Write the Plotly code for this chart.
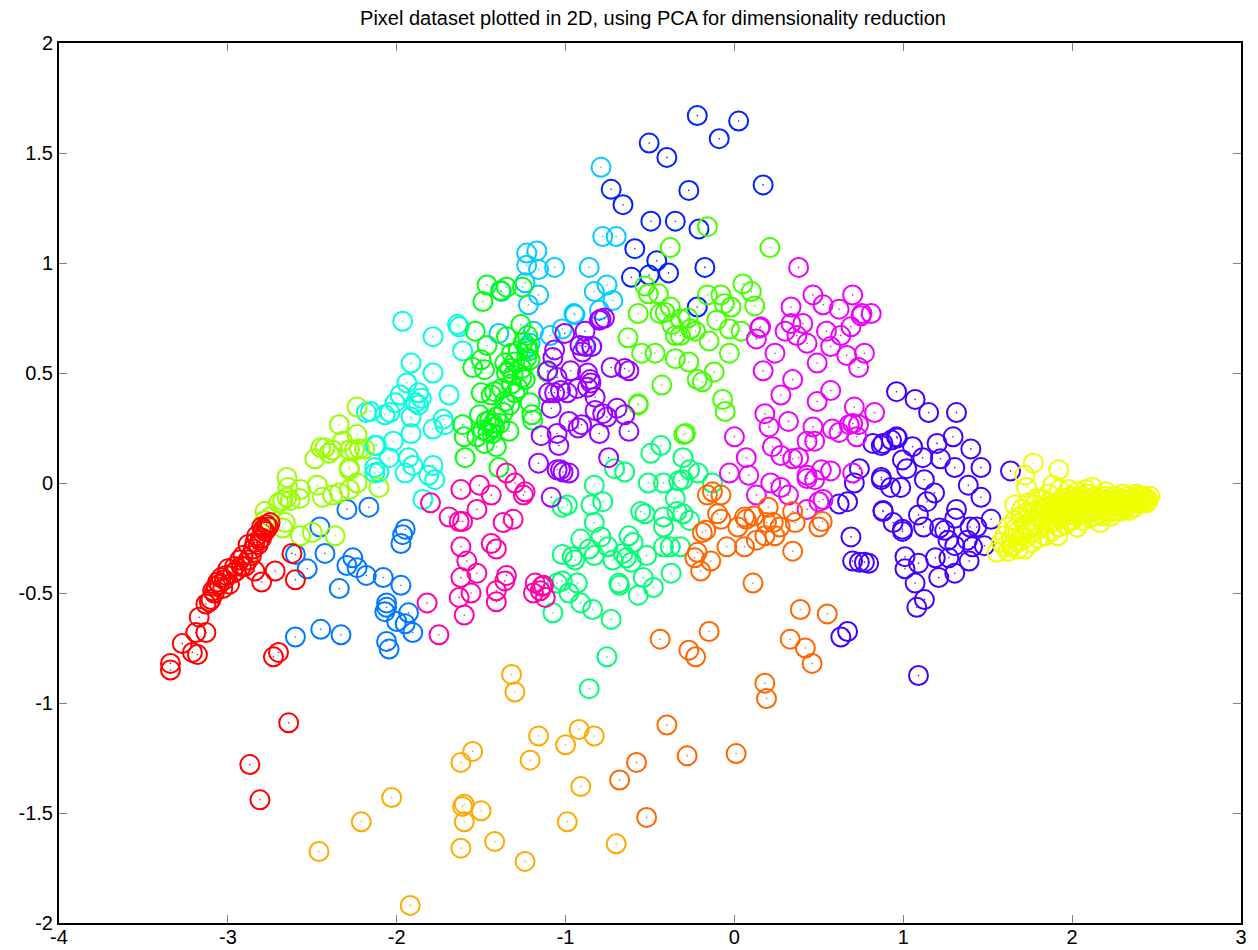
"""
Pixel dataset in 2D after PCA, one colour per cluster.
Values are read off the reference picture by eye.
"""
import plotly.graph_objects as go

# tick labels
x_ticks = [-4, -3, -2, -1, 0, 1, 2, 3]
y_ticks = [-2, -1.5, -1, -0.5, 0, 0.5, 1, 1.5, 2]

blue = [(-0.22,1.67),(0.025,1.645),(-0.09,1.565),(-0.505,1.545),(-0.40,1.48),(0.17,1.355),(-0.73,1.335),
        (-0.66,1.265),(-0.27,1.33),(-0.495,1.19),(-0.35,1.19),(-0.21,1.155),(-0.59,1.065),(-0.46,1.01),
        (-0.175,0.98),(-0.61,0.935),(-0.505,0.945),(-0.39,0.955),(-0.22,0.80)]

azure = [(-2.295,-0.12),(-2.165,-0.11),(-2.455,-0.20),(-2.60,-0.325),(-2.425,-0.32),(-2.53,-0.39),(-2.26,-0.34),
         (-2.295,-0.375),(-2.235,-0.385),(-2.18,-0.42),(-2.08,-0.43),(-1.975,-0.465),(-2.34,-0.48),(-1.95,-0.21),
         (-1.965,-0.235),(-1.975,-0.275),(-2.06,-0.545),(-2.06,-0.565),(-2.07,-0.585),(-1.93,-0.59),(-2.00,-0.63),
         (-1.95,-0.64),(-1.905,-0.68),(-2.06,-0.72),(-2.045,-0.755),(-2.45,-0.665),(-2.33,-0.69),(-2.60,-0.70)]

sky = [(-0.79,1.435),(-0.78,1.12),(-0.70,1.12),(-0.86,0.98),(-0.755,0.90),(-0.83,0.87),(-0.72,0.83),(-0.80,0.785),
       (-0.95,0.77),(-0.945,0.765),(-1.23,1.045),(-1.17,1.055),(-1.23,0.99),(-1.16,0.97),(-1.065,0.98),(-1.24,0.91),
       (-1.38,0.87),(-1.16,0.855),(-1.22,0.81),(-1.395,0.68),(-1.19,0.69),(-1.09,0.67),(-1.02,0.70),(-1.21,0.635),
       (-1.23,0.61),(-0.885,0.62),(-0.845,0.62)]

cyan = [(-1.965,0.735),(-1.785,0.665),(-1.64,0.72),(-1.63,0.71),(-1.61,0.60),(-1.915,0.545),(-1.785,0.50),(-1.94,0.455),
        (-1.98,0.40),(-2.01,0.365),(-2.155,0.325),(-2.07,0.31),(-2.04,0.32),(-1.855,0.385),(-1.87,0.355),(-1.89,0.365),
        (-1.69,0.40),(-1.915,0.30),(-1.915,0.225),(-1.785,0.245),(-1.725,0.29),(-1.715,0.265),(-2.13,0.17),(-2.12,0.17),
        (-2.02,0.19),(-2.045,0.115),(-2.13,0.07),(-2.105,0.05),(-2.13,0.045),(-1.93,0.115),(-1.905,0.08),(-1.95,0.045),
        (-1.785,0.08),(-1.81,0.035),(-1.775,0.015),(-1.845,-0.075),(-2.18,0.32),(-1.87,0.41)]

green = [(-1.465,0.90),(-1.385,0.875),(-1.35,0.89),(-1.255,0.89),(-1.49,0.825),(-1.535,0.69),(-1.265,0.72),(-1.35,0.665),
         (-1.465,0.625),(-1.50,0.56),(-1.55,0.525),(-1.48,0.515),(-1.32,0.59),(-1.225,0.67),(-1.225,0.62),(-1.23,0.57),
         (-1.36,0.545),(-1.30,0.55),(-1.26,0.48),(-1.24,0.47),(-1.31,0.49),(-1.35,0.50),(-1.11,0.505),(-1.21,0.56),
         (-1.21,0.365),(-1.20,0.31),(-1.195,0.285),(-1.50,0.41),(-1.42,0.415),(-1.33,0.355),(-1.37,0.32),(-1.51,0.31),
         (-1.45,0.285),(-1.42,0.255),(-1.39,0.27),(-1.335,0.235),(-1.61,0.265),(-1.60,0.21),(-1.525,0.21),(-1.48,0.18),
         (-1.41,0.165),(-1.595,0.115),(-1.395,0.07),(-1.46,0.23),(-1.435,0.225),(-1.43,0.27),(-1.28,0.43),(-1.38,0.43),
         (-1.26,0.52),(-1.47,0.28),(-1.49,0.24),(-1.41,0.30),(-1.44,0.40),(-1.32,0.45),(-1.30,0.41),(-1.36,0.37),
         (-1.33,0.52),(-1.28,0.60),(-1.25,0.64),(-1.22,0.60)]

lime = [(-0.16,1.165),(-0.38,1.07),(0.21,1.07),(-0.53,0.895),(-0.51,0.86),(-0.45,0.86),(-0.57,0.77),(-0.38,0.80),
        (-0.44,0.77),(-0.41,0.775),(-0.275,0.75),(-0.16,0.855),(-0.08,0.855),(0.05,0.905),(0.10,0.87),(-0.02,0.80),
        (-0.06,0.815),(0.12,0.805),(-0.105,0.74),(-0.03,0.70),(0.04,0.69),(-0.15,0.645),(-0.03,0.59),(-0.27,0.55),
        (-0.12,0.505),(-0.19,0.46),(-0.07,0.38),(-0.055,0.325),(-0.29,0.225),(-0.30,0.22),(-0.63,0.66),(-0.55,0.59),
        (-0.47,0.59),(-0.35,0.565),(-0.57,0.355),(-0.57,0.36),(-0.43,0.445),(-0.22,0.47),(-0.35,0.67),(-0.32,0.67),
        (-0.23,0.69),(-0.37,0.72),(-0.26,0.70),(-0.32,0.745)]

chartreuse = [(-2.235,0.345),(-2.34,0.265),(-2.235,0.22),(-2.32,0.19),(-2.485,0.11),(-2.45,0.16),(-2.425,0.16),(-2.40,0.135),
              (-2.38,0.15),(-2.28,0.15),(-2.25,0.15),(-2.22,0.155),(-2.19,0.155),(-2.28,0.07),(-2.28,0.06),(-2.65,0.025),
              (-2.47,-0.01),(-2.235,0),(-2.34,-0.045),(-2.28,-0.03),(-2.105,-0.02),(-2.44,-0.065),(-2.38,-0.055),(-2.57,-0.03),
              (-2.645,-0.02),(-2.65,-0.065),(-2.675,-0.08),(-2.63,-0.08),(-2.575,-0.07),(-2.78,-0.13),(-2.70,-0.09),(-2.75,-0.155),
              (-2.66,-0.18),(-2.675,-0.205),(-2.50,-0.225),(-2.57,-0.24),(-2.365,-0.24),(-2.78,-0.17)]

spring = [(-1.02,-0.11),(-0.99,-0.10),(-0.83,-0.01),(-0.85,-0.10),(-0.78,-0.085),(-0.83,-0.18),(-0.91,-0.255),(-0.79,-0.245),
          (-0.86,-0.30),(-0.83,-0.33),(-0.75,-0.29),(-1.02,-0.325),(-0.945,-0.35),(-0.96,-0.335),(-0.72,-0.35),(-0.625,-0.24),
          (-0.60,-0.27),(-0.66,-0.32),(-0.64,-0.34),(-0.61,-0.36),(-0.52,-0.33),(-0.555,-0.13),(-0.53,-0.14),(-0.51,0),
          (-0.42,0),(-0.33,0.01),(-0.35,-0.07),(-0.42,-0.155),(-0.42,-0.20),(-0.34,-0.13),(-0.305,-0.14),(-0.265,-0.17),
          (-0.42,-0.29),(-0.38,-0.29),(-0.32,-0.29),(-0.375,-0.41),(-0.54,-0.43),(-0.48,-0.475),(-0.685,-0.455),(-0.68,-0.465),
          (-0.57,-0.51),(-1.05,-0.455),(-1.02,-0.445),(-0.93,-0.455),(-0.98,-0.50),(-0.91,-0.545),(-0.84,-0.575),(-1.075,-0.59),
          (-0.73,-0.62),(-0.755,-0.79),(-0.86,-0.935),(-0.495,0.135),(-0.435,0.17),(-0.305,0.115),(-0.71,0.065),(-0.65,0.05),
          (-0.215,0.045),(-0.265,0.06),(-0.13,0),(-0.305,0.015)]

indigo = [(0.96,0.415),(1.07,0.38),(1.15,0.32),(1.315,0.32),(1.20,0.18),(1.295,0.21),(1.40,0.155),(1.055,0.165),(1.115,0.115),
          (1.22,0.11),(1.305,0.07),(1.46,0.07),(1.635,0.055),(0.96,0.21),(0.965,0.205),(0.88,0.18),(0.82,0.18),(0.87,0.17),
          (0.93,0.195),(0.995,0.105),(1.02,0.065),(1.125,0.015),(1.385,-0.01),(1.46,-0.065),(1.185,-0.045),(1.14,-0.085),
          (1.09,-0.145),(1.315,-0.12),(0.88,-0.13),(0.88,-0.125),(0.94,-0.18),(0.995,-0.21),(0.995,-0.22),(1.12,-0.20),
          (1.215,-0.205),(1.245,-0.215),(1.305,-0.16),(1.395,-0.20),(1.435,-0.20),(1.52,-0.165),(1.265,-0.26),(1.305,-0.285),
          (1.38,-0.26),(1.41,-0.29),(1.48,-0.285),(1.27,-0.34),(1.19,-0.34),(1.39,-0.355),(1.01,-0.335),(1.09,-0.365),
          (1.01,-0.39),(1.305,-0.41),(1.21,-0.43),(1.07,-0.455),(1.125,-0.53),(1.08,-0.565),(0.74,0.065),(0.87,0.015),
          (0.71,0),(0.87,0.025),(0.925,-0.02),(0.985,-0.02),(0.62,-0.095),(0.67,-0.085),(0.69,-0.245),(0.70,-0.355),
          (0.74,-0.36),(0.77,-0.36),(0.795,-0.365),(1.09,-0.875),(0.67,-0.675),(0.63,-0.70)]

purple = [(-1.005,0.68),(-0.885,0.69),(-0.79,0.745),(-0.77,0.75),(-0.80,0.74),(-1.065,0.605),(-1.075,0.57),(-0.915,0.625),
          (-0.88,0.62),(-0.845,0.62),(-0.90,0.595),(-0.97,0.51),(-1.05,0.48),(-1.105,0.51),(-0.87,0.50),(-0.855,0.47),
          (-0.85,0.455),(-0.87,0.435),(-0.73,0.525),(-0.65,0.52),(-0.625,0.51),(-1.10,0.41),(-0.99,0.41),(-0.93,0.43),
          (-1.03,0.42),(-1.065,0.41),(-0.825,0.39),(-1.085,0.34),(-0.825,0.33),(-0.755,0.30),(-0.695,0.34),(-0.65,0.31),
          (-0.78,0.315),(-0.98,0.28),(-0.905,0.265),(-0.925,0.25),(-0.80,0.225),(-0.625,0.235),(-1.145,0.215),(-1.05,0.225),
          (-1.04,0.17),(-1.16,0.09),(-0.745,0.115),(-1.05,0.06),(-1.015,0.05),(-0.98,0.045),(-1.03,0.06),(-1.085,-0.065)]

pink = [(-1.62,-0.03),(-1.51,-0.01),(-1.44,-0.055),(-1.525,-0.12),(-1.35,0.045),(-1.30,0),(-1.24,-0.04),(-1.25,-0.055),
        (-1.80,-0.09),(-1.69,-0.155),(-1.63,-0.175),(-1.61,-0.175),(-1.37,-0.18),(-1.31,-0.165),(-1.44,-0.275),(-1.41,-0.30),
        (-1.62,-0.29),(-1.585,-0.355),(-1.62,-0.43),(-1.525,-0.41),(-1.35,-0.42),(-1.36,-0.445),(-1.41,-0.49),(-1.41,-0.54),
        (-1.63,-0.52),(-1.56,-0.50),(-1.60,-0.60),(-1.82,-0.545),(-1.75,-0.69),(-1.18,-0.455),(-1.19,-0.50),(-1.14,-0.47),
        (-1.13,-0.465),(-1.12,-0.52),(-1.15,-0.49)]

magenta = [(0.38,0.98),(0.465,0.855),(0.70,0.855),(0.525,0.81),(0.335,0.80),(0.62,0.79),(0.81,0.77),(0.75,0.76),(0.755,0.77),
           (0.69,0.71),(0.405,0.725),(0.335,0.725),(0.30,0.69),(0.545,0.69),(0.63,0.67),(0.37,0.67),(0.43,0.635),(0.57,0.62),
           (0.155,0.71),(0.15,0.705),(0.13,0.655),(0.24,0.59),(0.665,0.58),(0.77,0.59),(0.49,0.545),(0.735,0.525),(0.17,0.51),
           (0.345,0.47),(0.57,0.42),(0.275,0.40),(0.49,0.37),(0.71,0.345),(0.83,0.32),(0.18,0.315),(0.32,0.28),(0.205,0.255),
           (0.465,0.255),(0.58,0.245),(0.62,0.23),(0.68,0.265),(0.70,0.27),(0.735,0.265),(0.725,0.21),(0.0,0.21),(0.43,0.19),
           (0.475,0.19),(0.225,0.165),(0.275,0.125),(0.345,0.11),(0.38,0.115),(0.07,0.115),(-0.03,0.045),(0.085,0.035),
           (0.43,0.035),(0.515,0.06),(0.57,0.055),(0.475,0.015),(0.43,0.02),(0.70,0.045),(0.215,0),(0.275,-0.02),(0.32,-0.055),
           (0.13,-0.055),(0.43,-0.12),(0.50,-0.085),(0.525,-0.075)]

yellow = [(1.77,0.09),(1.92,0.06),(1.72,0.035),(1.73,-0.02),(1.885,-0.01),(1.925,-0.03),(1.66,-0.10),(1.79,-0.07),(1.825,-0.075),
          (2.03,-0.04),(2.12,-0.02),(1.72,-0.30),(1.555,-0.315),(1.65,-0.285),(1.915,-0.24),(2.03,-0.20),(2.165,-0.18),(2.34,-0.125),
          (2.44,-0.09),(2.46,-0.06),(2.42,-0.06),(2.38,-0.07),(2.33,-0.06),(2.30,-0.09),(2.26,-0.08),(2.22,-0.07),(2.18,-0.08),
          (2.14,-0.06),(2.10,-0.07),(2.06,-0.06),(2.02,-0.07),(1.98,-0.08),(1.94,-0.07),(1.90,-0.10),(1.86,-0.09),(1.82,-0.11),
          (1.78,-0.10),(1.74,-0.13),(1.70,-0.15),(1.66,-0.17),(1.62,-0.20),(1.60,-0.24),(1.58,-0.27),(1.60,-0.29),(1.64,-0.25),
          (1.68,-0.22),(1.72,-0.19),(1.76,-0.17),(1.80,-0.15),(1.84,-0.14),(1.88,-0.13),(1.92,-0.12),(1.96,-0.11),(2.00,-0.10),
          (2.04,-0.09),(2.08,-0.10),(2.12,-0.09),(2.16,-0.10),(2.20,-0.10),(2.24,-0.10),(2.28,-0.11),(2.32,-0.10),(2.36,-0.09),
          (2.40,-0.08),(1.64,-0.29),(1.68,-0.27),(1.72,-0.25),(1.76,-0.23),(1.80,-0.21),(1.84,-0.19),(1.88,-0.18),(1.92,-0.16),
          (1.96,-0.15),(2.00,-0.14),(2.04,-0.13),(2.08,-0.14),(2.12,-0.13),(2.16,-0.14),(2.20,-0.13),(2.24,-0.13),(2.28,-0.13),
          (1.76,-0.27),(1.80,-0.25),(1.84,-0.24),(1.88,-0.22),(1.92,-0.20),(1.96,-0.19),(2.00,-0.17),(2.06,-0.17),(2.10,-0.16),
          (1.68,-0.30),(1.62,-0.31),(1.70,-0.12),(1.74,-0.09),(1.78,-0.13),(1.86,-0.05),(1.98,-0.03),(2.08,-0.03),(2.20,-0.04),
          (2.30,-0.05),(2.38,-0.05),
          # solid part of the band
          (1.95,-0.09),(1.97,-0.13),(1.99,-0.06),(2.01,-0.12),(2.03,-0.15),(2.05,-0.08),(2.07,-0.12),(2.09,-0.05),(2.11,-0.11),
          (2.13,-0.15),(2.15,-0.08),(2.17,-0.12),(2.19,-0.06),(2.21,-0.11),(2.23,-0.15),(2.25,-0.06),(2.27,-0.10),(2.29,-0.07),
          (2.31,-0.12),(2.33,-0.09),(2.35,-0.07),(2.37,-0.11),(2.39,-0.06),(2.41,-0.09),(2.43,-0.07),(2.45,-0.08),(1.90,-0.15),
          (1.93,-0.10),(1.98,-0.17),(2.02,-0.11),(2.06,-0.14),(2.10,-0.11),(2.14,-0.12),(2.18,-0.15),(2.22,-0.12),(2.26,-0.12),
          (2.30,-0.11),(2.34,-0.08),(2.38,-0.09),(2.42,-0.08),(1.86,-0.17),(1.82,-0.17),(1.78,-0.19),(1.74,-0.21),(1.70,-0.24),
          (1.66,-0.21),(1.90,-0.13),(1.94,-0.14),(1.98,-0.12),(2.04,-0.11),(2.08,-0.08),(2.12,-0.11),(2.16,-0.07),(2.20,-0.08),
          (2.24,-0.08),(2.28,-0.09),(2.32,-0.08),(2.36,-0.07),(2.40,-0.06),(2.44,-0.07),(1.84,-0.12),(1.88,-0.10),(1.92,-0.09),
          (1.96,-0.07),(2.00,-0.08),(2.04,-0.07)]

orange = [(-0.13,-0.04),(-0.08,-0.055),(-0.16,-0.055),(-0.10,-0.14),(-0.08,-0.165),(0.02,-0.2),(0.06,-0.155),(0.07,-0.165),
          (0.115,-0.15),(0.20,-0.11),(0.345,-0.13),(0.36,-0.18),(0.52,-0.175),(0.50,-0.2),(0.19,-0.18),(0.23,-0.18),(0.27,-0.2),
          (0.24,-0.24),(0.18,-0.24),(0.13,-0.26),(0.06,-0.29),(-0.045,-0.29),(0.345,-0.31),(-0.14,-0.355),(-0.20,-0.40),
          (-0.22,-0.315),(-0.235,-0.34),(-0.17,-0.215),(-0.19,-0.225),(0.11,-0.455),(-0.44,-0.71),(-0.27,-0.76),(-0.23,-0.79),
          (-0.15,-0.675),(0.39,-0.575),(0.55,-0.595),(0.33,-0.71),(0.42,-0.75),(0.46,-0.82),(0.18,-0.91),(0.19,-0.98),
          (-0.40,-1.10),(-0.28,-1.24),(0.01,-1.23),(-0.58,-1.27),(-0.68,-1.35),(-0.52,-1.52)]

amber = [(-1.32,-0.87),(-1.30,-0.95),(-1.16,-1.15),(-1.21,-1.26),(-1.0,-1.19),(-0.92,-1.12),(-0.83,-1.15),(-0.91,-1.38),
         (-0.99,-1.54),(-1.62,-1.27),(-1.55,-1.22),(-1.61,-1.47),(-1.60,-1.46),(-1.60,-1.54),(-1.50,-1.49),(-1.62,-1.66),
         (-1.42,-1.63),(-1.24,-1.72),(-1.92,-1.92),(-2.46,-1.675),(-2.21,-1.54),(-2.03,-1.43),(-0.70,-1.64)]

red = [(-3.34,-0.82),(-3.34,-0.85),(-3.27,-0.73),(-3.21,-0.77),(-3.18,-0.78),(-3.13,-0.68),(-3.19,-0.68),(-3.17,-0.61),
       (-3.13,-0.55),(-3.10,-0.53),(-3.08,-0.50),(-3.07,-0.47),(-3.05,-0.46),(-3.03,-0.48),(-3.02,-0.44),(-2.99,-0.46),
       (-2.97,-0.41),(-2.95,-0.40),(-2.93,-0.35),(-2.90,-0.38),(-2.88,-0.35),(-2.85,-0.30),(-2.88,-0.28),(-2.84,-0.40),
       (-2.82,-0.28),(-2.80,-0.25),(-2.79,-0.21),(-2.76,-0.20),(-2.78,-0.22),(-2.75,-0.18),(-2.80,-0.45),(-2.72,-0.40),
       (-2.73,-0.79),(-2.70,-0.77),(-2.64,-1.09),(-2.87,-1.28),(-2.81,-1.44),(-2.62,-0.32),(-2.60,-0.44),
       (-3.06,-0.45),(-3.04,-0.43),(-3.01,-0.42),(-3.00,-0.39),(-2.96,-0.38),(-2.92,-0.38),(-2.91,-0.33),(-2.86,-0.33),
       (-2.84,-0.27),(-2.81,-0.26),(-2.83,-0.24),(-2.77,-0.19),(-2.80,-0.20),(-3.11,-0.54),(-3.09,-0.49)]

# later clusters are painted over earlier ones
clusters = [
    (blue, "#0022ff"), (azure, "#0077ff"), (sky, "#00ccff"), (cyan, "#00ffdd"),
    (green, "#00ff11"), (lime, "#44ff00"), (chartreuse, "#99ff00"), (spring, "#00ff77"),
    (indigo, "#4400ff"), (purple, "#9900ff"), (pink, "#ff00aa"), (magenta, "#ee00ff"),
    (yellow, "#eeff00"), (orange, "#ff6600"), (amber, "#ffaa00"), (red, "#ff0000"),
]

fig = go.Figure()
for points, colour in clusters:
    xs = [p[0] for p in points]
    ys = [p[1] for p in points]
    fig.add_trace(go.Scatter(x=xs, y=ys, mode="markers", hoverinfo="skip",
                             marker=dict(symbol="circle-open", size=19, color=colour,
                                         line=dict(width=2, color=colour))))
    # the tiny dot in the middle of each ring
    fig.add_trace(go.Scatter(x=xs, y=ys, mode="markers", hoverinfo="skip",
                             marker=dict(symbol="circle", size=1.6, color=colour)))

axis_style = dict(showgrid=False, zeroline=False, showline=True, linecolor="black", linewidth=2,
                  mirror="ticks", ticks="inside", ticklen=8, tickwidth=1, tickcolor="#808080",
                  automargin=False)
fig.update_xaxes(range=[-4, 3], tickvals=x_ticks, ticktext=[str(v) for v in x_ticks],
                 ticklabelstandoff=-5, **axis_style)
fig.update_yaxes(range=[-2, 2], tickvals=y_ticks, ticktext=[str(v) for v in y_ticks], **axis_style)
# the page keeps an 8 px body margin, so the figure is 8 px smaller each way
fig.update_layout(
    width=1250, height=942,
    margin=dict(l=51, r=17, t=35, b=27),
    showlegend=False,
    plot_bgcolor="white", paper_bgcolor="white",
    font=dict(family="Liberation Sans", size=20, color="black"),
    title=dict(text="Pixel dataset plotted in 2D, using PCA for dimensionality reduction",
               x=0.516, xanchor="center", y=0.9894, yanchor="middle", font=dict(size=20)),
)
fig.write_html("out.html")
